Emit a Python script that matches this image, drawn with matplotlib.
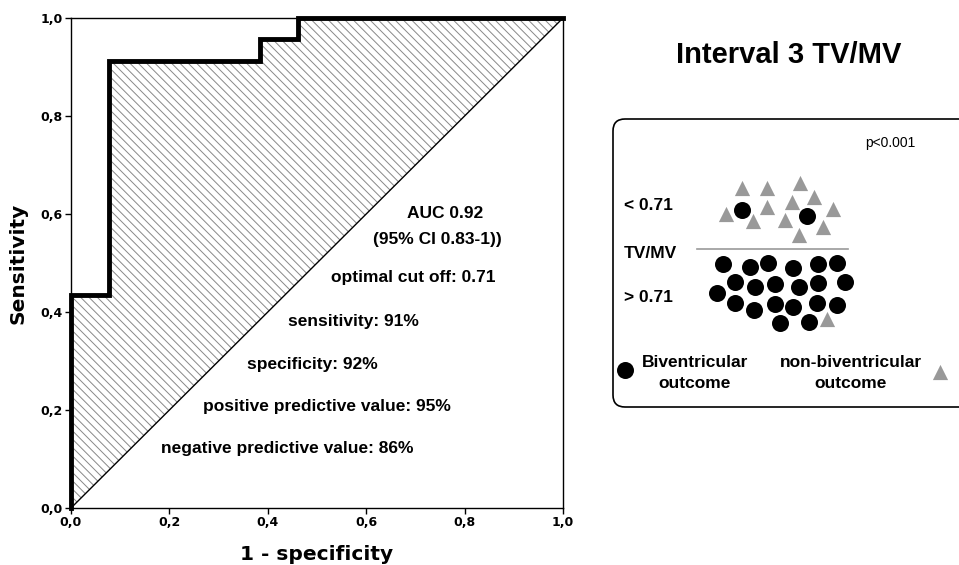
import numpy as np
import matplotlib
matplotlib.use('Agg')
import matplotlib.pyplot as plt
from matplotlib.patches import FancyBboxPatch

plt.rcParams['font.family'] = ['Liberation Sans', 'DejaVu Sans']
plt.rcParams['hatch.color'] = '#888888'
plt.rcParams['hatch.linewidth'] = 0.7

# ROC curve (1 - specificity, sensitivity)
fpr = [0.0, 0.0, 0.077, 0.077, 0.385, 0.385, 0.462, 0.462, 1.0]
tpr = [0.0, 0.435, 0.435, 0.913, 0.913, 0.957, 0.957, 1.0, 1.0]
ticks = [0.0, 0.2, 0.4, 0.6, 0.8, 1.0]
tick_labels = ['0,0', '0,2', '0,4', '0,6', '0,8', '1,0']

stats_text = ['AUC 0.92', '(95% CI 0.83-1))', 'optimal cut off: 0.71',
              'sensitivity: 91%', 'specificity: 92%',
              'positive predictive value: 95%', 'negative predictive value: 86%']
stats_x = [0.76, 0.745, 0.695, 0.575, 0.49, 0.52, 0.44]
stats_y = [0.60, 0.547, 0.47, 0.38, 0.293, 0.208, 0.122]

# dot plot (figure pixel frame)
biv_x = [741.7, 807.3,
         722.7, 750, 768.3, 792.7, 818.3, 836.7,
         735, 755, 775, 799.3, 818.3, 845,
         717.3, 735, 754.3, 775, 793.3, 816.7, 836.7,
         780, 809.3]
biv_y = [210, 216,
         264, 266.7, 263.3, 268.3, 264, 262.7,
         281.7, 286.7, 284, 286.7, 283.3, 281.7,
         293.3, 302.7, 310, 304, 306.7, 303.3, 305,
         323.3, 321.7]
non_x = [741.7, 766.7, 800, 726, 766.7, 791.7, 814.3, 833.3, 752.7, 785, 823.3, 799.3, 826.7]
non_y = [188.3, 188.3, 182.7, 214, 207.3, 201.7, 197.3, 209, 220.7, 220, 227.3, 235, 319.3]

fig = plt.figure(figsize=(9.59, 5.65), dpi=100)
ax = fig.add_axes([71 / 959, 57 / 565, 492 / 959, 490 / 565])

diag = np.array(fpr)
ax.fill_between(fpr, tpr, diag, facecolor='white', hatch='\\\\\\\\', edgecolor='#888888', linewidth=0)
ax.plot([0, 1], [0, 1], color='black', lw=1)
ax.plot(fpr, tpr, color='black', lw=3.5, solid_joinstyle='miter', clip_on=False, zorder=5)

ax.set_xlim(0, 1)
ax.set_ylim(0, 1)
ax.set_xticks(ticks)
ax.set_xticklabels(tick_labels, fontsize=9, fontweight='bold', family='DejaVu Sans')
ax.set_yticks(ticks)
ax.set_yticklabels(tick_labels, fontsize=9, fontweight='bold', family='DejaVu Sans')
ax.tick_params(direction='out', length=4, width=1, pad=2)
for s in ax.spines.values():
    s.set_linewidth(1)
ax.set_xlabel('1 - specificity', fontsize=14.5, fontweight='bold', family='DejaVu Sans', labelpad=11)
ax.set_ylabel('Sensitivity', fontsize=14.5, fontweight='bold', family='DejaVu Sans', labelpad=9)

for t, x, y in zip(stats_text, stats_x, stats_y):
    ax.text(x, y, t, ha='center', va='center', fontsize=12.5, fontweight='bold',
            family=['Liberation Sans Narrow', 'Liberation Sans'])

# right panel in pixel coordinates
ov = fig.add_axes([0, 0, 1, 1], zorder=10)
ov.set_xlim(0, 959)
ov.set_ylim(565, 0)
ov.axis('off')

ov.text(789, 55, 'Interval 3 TV/MV', ha='center', va='center', fontsize=21, fontweight='bold')
box = FancyBboxPatch((613, 119), 380, 288, boxstyle='round,pad=0,rounding_size=12',
                     facecolor='white', edgecolor='black', lw=1.2, clip_on=False)
ov.add_patch(box)
ov.text(890, 143, 'p<0.001', ha='center', va='center', fontsize=10)
narrow = ['Liberation Sans Narrow', 'Liberation Sans']
ov.text(624, 205, '< 0.71', ha='left', va='center', fontsize=12.5, fontweight='bold', family=narrow)
ov.text(624, 254, 'TV/MV', ha='left', va='center', fontsize=12.5, fontweight='bold', family=narrow)
ov.text(624, 298, '> 0.71', ha='left', va='center', fontsize=12.5, fontweight='bold', family=narrow)
ov.plot([697, 848], [248.5, 248.5], color='#999999', lw=1.2)

ov.scatter(non_x, non_y, marker='^', s=120, color='#999999', linewidths=0, zorder=3)
ov.scatter(biv_x, biv_y, marker='o', s=150, color='black', linewidths=0, zorder=4)

ov.scatter([625], [370], marker='o', s=150, color='black', linewidths=0)
ov.scatter([940], [372], marker='^', s=120, color='#999999', linewidths=0)
ov.text(695, 373, 'Biventricular\noutcome', ha='center', va='center', fontsize=12.5,
        fontweight='bold', family=narrow, linespacing=1.45)
ov.text(851, 373, 'non-biventricular\noutcome', ha='center', va='center', fontsize=12.5,
        fontweight='bold', family=narrow, linespacing=1.45)

fig.savefig('out.png', dpi=100)
